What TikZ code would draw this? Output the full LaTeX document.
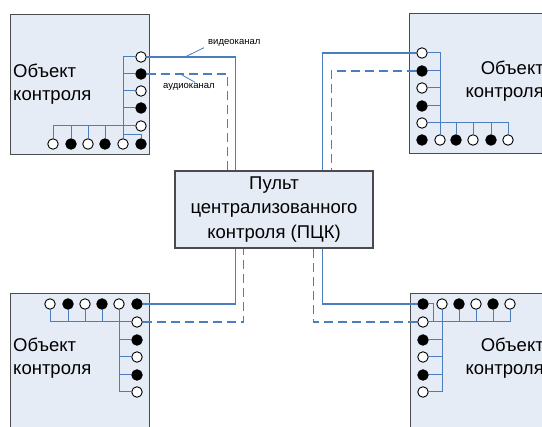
\documentclass[tikz,border=0pt]{standalone}
\usepackage{fontspec}
\setmainfont{Liberation Sans}
\usepackage{tikz}
\usetikzlibrary{calc}
\definecolor{boxfill}{RGB}{230,236,246}
\definecolor{chanblue}{RGB}{74,126,190}
\definecolor{edgegray}{RGB}{75,75,75}
\tikzset{
  objbox/.style={draw=edgegray, line width=1.1pt, fill=boxfill, inner sep=0pt, anchor=north west},
  pckbox/.style={draw=edgegray, line width=1.1pt, fill=boxfill, minimum width=198pt, minimum height=77pt, align=center, font=\fontsize{18.5}{24.5}\selectfont},
  objtext/.style={inner sep=0pt, font=\fontsize{18.5}{23}\selectfont},
  porto/.style={circle, draw=black, line width=0.9pt, fill=white, inner sep=0pt, minimum size=10.5pt},
  portf/.style={porto, fill=black},
  bus/.style={draw=chanblue, line width=1pt},
  video/.style={draw=chanblue, line width=1.4pt},
  audio/.style={draw=chanblue, line width=1.4pt, dash pattern=on 9pt off 5pt},
  lead/.style={draw=chanblue, line width=0.8pt},
  chanlabel/.style={inner sep=0pt, font=\fontsize{9.5}{11}\selectfont}
}
\newcommand{\portO}[3]{\node[porto] (#1) at (#2,#3) {};}
\newcommand{\portF}[3]{\node[portf] (#1) at (#2,#3) {};}

\begin{document}
\begin{tikzpicture}[x=1pt,y=-1pt]
    \useasboundingbox (0,0) rectangle (542,427);
    \clip (0,0) rectangle (542,427);
    % boxes
    \node[objbox, minimum width=139pt, minimum height=140pt] (objA) at (10,14) {};
    \node[objbox, minimum width=150pt, minimum height=140pt] (objB) at (409,13) {};
    \node[objbox, minimum width=139pt, minimum height=150pt] (objC) at (10,293) {};
    \node[objbox, minimum width=150pt, minimum height=150pt] (objD) at (410,293) {};
    \node[pckbox] (pck) at (274,209.5) {Пульт\\централизованного\\контроля (ПЦК)};
    \node[objtext, align=left, anchor=north west] (txtA) at (13,64) {Объект\\контроля};
    \node[objtext, align=right, anchor=north east] (txtB) at (544,61) {Объект\\контроля};
    \node[objtext, align=left, anchor=north west] (txtC) at (13,338) {Объект\\контроля};
    \node[objtext, align=right, anchor=north east] (txtD) at (544,338) {Объект\\контроля};
    % ends on the console
    \coordinate (pA1) at ([xshift=61pt]pck.north west);
    \coordinate (pA2) at ([xshift=53pt]pck.north west);
    \coordinate (pB1) at ([xshift=148pt]pck.north west);
    \coordinate (pB2) at ([xshift=157pt]pck.north west);
    \coordinate (pC1) at ([xshift=61pt]pck.south west);
    \coordinate (pC2) at ([xshift=69pt]pck.south west);
    \coordinate (pD1) at ([xshift=148pt]pck.south west);
    \coordinate (pD2) at ([xshift=139pt]pck.south west);
    % object A, column
    \portO{a1}{141}{57}
    \portF{a2}{141}{74}
    \portO{a3}{141}{91}
    \portF{a4}{141}{108}
    \portO{a5}{141}{126}
    % object A, row
    \portO{ab1}{53}{144}
    \portF{ab2}{71}{144}
    \portO{ab3}{88}{144}
    \portF{ab4}{105}{144}
    \portO{ab5}{123}{144}
    \portF{ab6}{141}{144}
    % object B, column
    \portO{b1}{422}{53}
    \portF{b2}{422}{71}
    \portO{b3}{422}{88}
    \portF{b4}{422}{106}
    \portO{b5}{422}{123}
    % object B, row
    \portF{bb1}{422}{140}
    \portO{bb2}{440}{140}
    \portF{bb3}{456}{140}
    \portO{bb4}{473}{140}
    \portF{bb5}{491}{140}
    \portO{bb6}{508}{140}
    % object C, row
    \portO{ct1}{50}{304}
    \portF{ct2}{68}{304}
    \portO{ct3}{85}{304}
    \portF{ct4}{102}{304}
    \portO{ct5}{119}{304}
    \portF{ct6}{137}{304}
    % object C, column
    \portO{c1}{137}{322}
    \portF{c2}{137}{340}
    \portO{c3}{137}{357}
    \portF{c4}{137}{375}
    \portO{c5}{137}{392}
    % object D, row
    \portF{dt1}{423}{304}
    \portO{dt2}{442}{304}
    \portF{dt3}{459}{304}
    \portO{dt4}{476}{304}
    \portF{dt5}{493}{304}
    \portO{dt6}{510}{304}
    % object D, column
    \portO{d1}{423}{322}
    \portF{d2}{423}{340}
    \portO{d3}{423}{357}
    \portF{d4}{423}{375}
    \portO{d5}{423}{392}
    % buses A
    \draw[bus] (a1.west) -| (ab5.north);
    \draw[bus] (a2.west) -- (a2.west -| ab5.north);
    \draw[bus] (a3.west) -- (a3.west -| ab5.north);
    \draw[bus] (a4.west) -- (a4.west -| ab5.north);
    \draw[bus] (a5.west) -| (ab1.north);
    \draw[bus] (ab2.north) -- (ab2.north |- a5.west);
    \draw[bus] (ab3.north) -- (ab3.north |- a5.west);
    \draw[bus] (ab4.north) -- (ab4.north |- a5.west);
    \draw[bus] (ab6.north) -- ++(0,-4) -| (ab5.north);
    % buses B
    \draw[bus] (b1.east) -| (bb2.north);
    \draw[bus] (b2.east) -- (b2.east -| bb2.north);
    \draw[bus] (b3.east) -- (b3.east -| bb2.north);
    \draw[bus] (b4.east) -- (b4.east -| bb2.north);
    \draw[bus] (b5.east) -| (bb6.north);
    \draw[bus] (bb3.north) -- (bb3.north |- b5.east);
    \draw[bus] (bb4.north) -- (bb4.north |- b5.east);
    \draw[bus] (bb5.north) -- (bb5.north |- b5.east);
    % buses C
    \draw[bus] (c1.west) -| (ct1.south);
    \draw[bus] (ct2.south) -- (ct2.south |- c1.west);
    \draw[bus] (ct3.south) -- (ct3.south |- c1.west);
    \draw[bus] (ct4.south) -- (ct4.south |- c1.west);
    \draw[bus] (ct5.south) |- (c5.west);
    \draw[bus] (c2.west) -- (c2.west -| ct5.south);
    \draw[bus] (c3.west) -- (c3.west -| ct5.south);
    \draw[bus] (c4.west) -- (c4.west -| ct5.south);
    % buses D
    \draw[bus] (d1.east) -| (dt6.south);
    \draw[bus] (dt3.south) -- (dt3.south |- d1.east);
    \draw[bus] (dt4.south) -- (dt4.south |- d1.east);
    \draw[bus] (dt5.south) -- (dt5.south |- d1.east);
    \draw[bus] (dt2.south) |- (d5.east);
    \draw[bus] (d2.east) -- (d2.east -| dt2.south);
    \draw[bus] (d3.east) -- (d3.east -| dt2.south);
    \draw[bus] (d4.east) -- (d4.east -| dt2.south);
    \draw[bus] (dt1.east) -- ++(4.5,0) |- (d1.east);
    % channels
    \draw[video] (a1.east) -| (pA1);
    \draw[audio] (a2.east) -| (pA2);
    \draw[video] (b1.west) -| (pB1);
    \draw[audio] (b2.west) -| (pB2);
    \draw[video] (ct6.east) -| (pC1);
    \draw[audio] (c1.east) -| (pC2);
    \draw[video] (dt1.west) -| (pD1);
    \draw[audio] (d1.west) -| (pD2);
    % channel labels
    \node[chanlabel, anchor=west] (vlab) at (208,43) {видеоканал};
    \node[chanlabel, anchor=west] (alab) at (163,87) {аудиоканал};
    \coordinate (vtap) at (185,57);
    \coordinate (atap) at (182,75);
    \draw[lead] (vtap) -- ([xshift=-4pt,yshift=-1pt]vlab.south west);
    \draw[lead] (atap) -- ([xshift=32pt,yshift=1pt]alab.north west);
\end{tikzpicture}
\end{document}
